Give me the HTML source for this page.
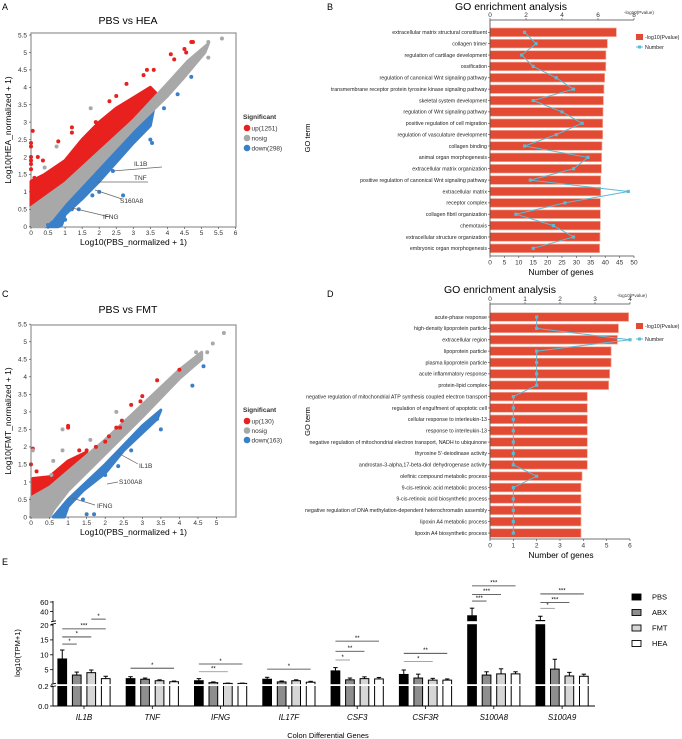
<!DOCTYPE html>
<html><head><meta charset="utf-8">
<style>
html,body{margin:0;padding:0;background:#fff;}
svg{display:block;font-family:"Liberation Sans",Arial,sans-serif;}
</style></head>
<body>
<svg id="fig" xmlns="http://www.w3.org/2000/svg" width="682" height="739" viewBox="0 0 682 739">
  <text x="2" y="10" font-size="9">A</text>
  <text x="327" y="10" font-size="9">B</text>
  <text x="2" y="297" font-size="9">C</text>
  <text x="327" y="297" font-size="9">D</text>
  <text x="2" y="565" font-size="9">E</text>
  <g id="pa"></g>
  <g id="pc"></g>
  <g id="pb"></g>
  <g id="pd"></g>
  <g id="pe"></g>
</svg>
<script>
// ---------- Panel A data ----------
const aRedBand=[[0,0.4],[0,1.3],[0.4,1.5],[1,1.9],[1.5,2.5],[2,3.0],[2.5,3.4],[3,3.7],[3.5,4.0],[3.7,3.8],[3.5,3.5],[2,2],[0.5,0.5]];
const aBlueBand=[[0.4,0],[0.5,0.15],[1,0.65],[2,1.7],[3,2.8],[3.6,3.4],[3.5,2.9],[3,2.4],[2,1.3],[1.5,0.8],[1,0.35],[0.9,0.05],[0.8,0]];
const aGrayBand=[[0,0],[0,0.55],[1,1.25],[2,2.15],[3,3.05],[4,4.1],[4.6,4.75],[5.2,5.25],[5.1,5.0],[4.5,4.3],[4,3.75],[3,2.8],[2,1.75],[1,0.7],[0.5,0.1],[0.4,0]];
const aRedPts=[[0,2.4],[0,2.3],[0.05,2.75],[0,2.0],[0,1.9],[0,1.8],[0,1.65],[0.2,2.0],[0.35,1.9],[0.8,2.45],[1.2,2.85],[1.2,2.7],[1.9,3.0],[2.3,3.6],[2.5,3.75],[2.8,4.1],[3.3,4.35],[3.6,4.5],[4.1,4.95],[4.2,4.8],[4.5,5.1],[4.55,5.0],[4.7,5.3],[4.75,5.3],[3.4,4.5],[0.1,1.4],[0.05,1.2]];
const aBluePts=[[3.5,2.5],[3.55,2.4],[2.7,0.9],[2.0,1.0],[1.8,0.9],[1.2,0.5],[1.4,0.5],[1.0,0.2],[4.3,3.8],[4.7,4.3],[3.9,3.4],[2.2,1.6],[2.4,1.6],[0.5,0.05],[0.6,0.1]];
const aGrayPts=[[1.75,3.4],[0.75,2.3],[0.4,1.7],[5.6,5.4],[5.2,5.3],[5.2,4.85],[4.7,4.6],[0.6,0.9]];
const aXTicks=[0,0.5,1,1.5,2,2.5,3,3.5,4,4.5,5,5.5,6];
const aYTicks=[0,0.5,1,1.5,2,2.5,3,3.5,4,4.5,5,5.5];
const aLegend=["up(1251)","nosig","down(298)"];
// ---------- Panel C data ----------
const cRedBand=[[0.05,0.5],[0.05,1.1],[0.5,1.15],[1,1.6],[1.5,1.85],[1.5,1.6],[1,1.15],[0.5,0.7]];
const cBlueBand=[[0.6,0],[1,0.5],[2,1.5],[3,2.6],[3.5,3.05],[3.4,2.8],[2.5,1.9],[2,1.25],[1.4,0.75],[1,0.3],[0.9,0]];
const cGrayBand=[[0,0],[0,0.55],[0.5,0.85],[1,1.3],[2,2.2],[3,3.2],[4,4.2],[4.6,4.7],[4.6,4.5],[4,3.95],[3,2.85],[2,1.8],[1,0.75],[0.6,0.2],[0.5,0]];
const cRedPts=[[0,1.5],[0.05,1.95],[0.15,1.3],[1.0,2.6],[1.0,2.55],[1.3,1.9],[1.5,1.9],[1.75,2.0],[2.0,2.15],[2.1,2.3],[2.4,2.55],[2.45,2.75],[2.7,3.2],[2.95,3.3],[3.4,3.9],[3.0,3.45],[4.0,4.2],[2.3,2.55]];
const cBluePts=[[1.5,0.08],[1.7,0.08],[0.85,0.15],[2.35,1.45],[2.15,1.55],[2.7,1.9],[3.5,2.5],[3.4,2.8],[3.05,2.55],[4.35,3.75],[4.65,4.3],[2.0,1.2],[1.2,0.55],[1.4,0.5]];
const cGrayPts=[[0.05,1.9],[0.6,1.6],[0.85,2.5],[0.85,1.9],[0.55,1.2],[1.6,2.2],[2.3,3.0],[3.5,3.55],[5.2,5.25],[4.9,4.95],[4.75,4.7],[4.45,4.7]];
const cXTicks=[0,0.5,1,1.5,2,2.5,3,3.5,4,4.5,5];
const cYTicks=[0,0.5,1,1.5,2,2.5,3,3.5,4,4.5,5,5.5];
const cLegend=["up(130)","nosig","down(163)"];
// ---------- Panel B data ----------
const bTerms=["extracellular matrix structural constituent","collagen trimer","regulation of cartilage development","ossification","regulation of canonical Wnt signaling pathway","transmembrane receptor protein tyrosine kinase signaling pathway","skeletal system development","regulation of Wnt signaling pathway","positive regulation of cell migration","regulation of vasculature development","collagen binding","animal organ morphogenesis","extracellular matrix organization","positive regulation of canonical Wnt signaling pathway","extracellular matrix","receptor complex","collagen fibril organization","chemotaxis","extracellular structure organization","embryonic organ morphogenesis"];
const bPval=[7.02,6.52,6.44,6.43,6.37,6.33,6.30,6.28,6.26,6.26,6.22,6.20,6.19,6.15,6.15,6.13,6.13,6.13,6.11,6.09];
const bCount=[12,16,11,15,23,29,15,25,32,23,12,34,29,14,48,26,9,22,29,15];
const bTopTicks=[0,2,4,6,8];
const bBotTicks=[0,5,10,15,20,25,30,35,40,45,50];
// ---------- Panel D data ----------
const dTerms=["acute-phase response","high-density lipoprotein particle","extracellular region","lipoprotein particle","plasma lipoprotein particle","acute inflammatory response","protein-lipid complex","negative regulation of mitochondrial ATP synthesis coupled electron transport","regulation of engulfment of apoptotic cell","cellular response to interleukin-13","response to interleukin-13","negative regulation of mitochondrial electron transport, NADH to ubiquinone","thyroxine 5'-deiodinase activity","androstan-3-alpha,17-beta-diol dehydrogenase activity","olefinic compound metabolic process","9-cis-retinoic acid metabolic process","9-cis-retinoic acid biosynthetic process","negative regulation of DNA methylation-dependent heterochromatin assembly","lipoxin A4 metabolic process","lipoxin A4 biosynthetic process"];
const dPval=[3.96,3.67,3.64,3.46,3.46,3.42,3.39,2.78,2.78,2.78,2.78,2.78,2.78,2.78,2.63,2.60,2.60,2.60,2.60,2.60];
const dCount=[2,2,6,2,2,2,2,1,1,1,1,1,1,1,2,1,1,1,1,1];
const dTopTicks=[0,1,2,3,4];
const dBotTicks=[0,1,2,3,4,5,6];
// ---------- Panel E data ----------
const eGenes=["IL1B","TNF","IFNG","IL17F","CSF3","CSF3R","S100A8","S100A9"];
const eGroups=["PBS","ABX","FMT","HEA"];
const ePBS=[8.6,2.0,1.3,1.8,4.6,3.4,31,21];
const ePBSerr=[11.6,2.65,2.0,2.45,5.7,4.9,47,30];
const eABX=[3.2,1.8,0.65,0.9,1.6,2.2,3.2,5.2];
const eABXerr=[4.2,2.2,0.9,1.2,2.2,3.5,4.3,8.5];
const eFMT=[4.0,1.3,0.4,1.3,2.0,1.5,3.6,2.9];
const eFMTerr=[4.9,1.6,0.5,1.6,2.6,2.1,5.3,4.1];
const eHEA=[2.0,0.95,0.4,0.8,1.9,1.5,3.6,2.8];
const eHEAerr=[2.8,1.2,0.5,1.1,2.4,1.9,4.3,3.5];
const eYTicks=[60,40,20,15,10,5,0.2,0.0];
const eYTickLabels=["60","40","20","15","10","5","0.2","0.0"];
// significance: gene index, from group, to group, height (data units), stars
const sigGene=[0,0,0,0,1,2,2,3,4,4,4,5,5,6,6,6,7,7,7];
const sigFrom=[0,0,0,2,0,0,0,0,0,0,0,0,0,0,0,0,0,0,0];
const sigTo=[1,2,3,3,3,2,3,3,1,2,3,2,3,1,2,3,1,2,3];
const sigLevel=[13.6,16,18.7,24,5.5,4.3,6.9,5.2,8.25,11.2,14.6,7.7,10.5,62,76,94,46.7,59,77];
const sigStars=["*","*","***","*","*","**","*","*","*","**","**","*","**","***","***","***","*","***","***"];

const NS="http://www.w3.org/2000/svg";
function mk(tag,attrs,parent,txt){const e=document.createElementNS(NS,tag);for(const k in attrs)e.setAttribute(k,attrs[k]);if(txt!==undefined)e.textContent=txt;parent.appendChild(e);return e;}
const RED="#e8201e",GRAY="#a8a8a8",BLUE="#3a80c9";

function scatter(g,o){
  const X=o.X,Y=o.Y;
  let el;
  el=mk("text",{x:o.titleX,y:o.titleY,"font-size":"10.5","text-anchor":"middle"},g,o.title);
  
  
  el=mk("rect",{x:o.left,y:o.top,width:o.right-o.left,height:o.bottom-o.top,fill:"none",stroke:"#9a9a9a","stroke-width":"1.3"},g);
  
  
  const bands=[[o.redBand,RED,'up-region'],[o.blueBand,BLUE,'down-region'],[o.grayBand,GRAY,'nosig-region']];
  bands.forEach(b=>{
    el=mk("polygon",{points:b[0].map(p=>X(p[0])+","+Y(p[1])).join(" "),fill:b[1],stroke:b[1],"stroke-width":"3","stroke-linejoin":"round"},g);
    
    
  });
  const pts=[[o.redPts,RED,'up-point'],[o.bluePts,BLUE,'down-point'],[o.grayPts,GRAY,'nosig-point']];
  pts.forEach(s=>s[0].forEach(p=>{
    el=mk("circle",{cx:X(p[0]),cy:Y(p[1]),r:"2",fill:s[1]},g);
    
    
  }));
  o.xTicks.forEach(v=>{
    el=mk("line",{x1:X(v),x2:X(v),y1:o.bottom,y2:o.bottom+2,stroke:"#555","stroke-width":"0.7"},g);
    
    
    el=mk("text",{x:X(v),y:o.bottom+8,"font-size":"6.5","text-anchor":"middle",fill:"#333"},g,String(v));
    
    
  });
  o.yTicks.forEach(v=>{
    el=mk("line",{x1:o.left-2,x2:o.left,y1:Y(v),y2:Y(v),stroke:"#555","stroke-width":"0.7"},g);
    
    
    el=mk("text",{x:o.left-4,y:Y(v)+2.3,"font-size":"6.5","text-anchor":"end",fill:"#333"},g,String(v));
    
    
  });
  el=mk("text",{x:(o.left+o.right)/2,y:o.bottom+18,"font-size":"8.5","text-anchor":"middle"},g,"Log10(PBS_normalized + 1)");
  
  
  const cy=(o.top+o.bottom)/2;
  el=mk("text",{x:11,y:cy,"font-size":"8.5","text-anchor":"middle",transform:"rotate(-90 11 "+cy+")"},g,o.yTitle);
  
  
  el=mk("text",{x:243,y:o.legY,"font-size":"6.5","font-weight":"bold",fill:"#333"},g,"Significant");
  
  
  const lc=[RED,GRAY,BLUE];
  o.legend.forEach((t,i)=>{
    const y=o.legY+9+i*o.legStep;
    el=mk("circle",{cx:247,cy:y,r:"3.3",fill:lc[i]},g);
    
    
    el=mk("text",{x:251.5,y:y+2.3,"font-size":"6.5",fill:"#333"},g,t);
    
    
  });
  o.ann.forEach(a=>{
    el=mk("line",{x1:a[0],y1:a[1],x2:a[2],y2:a[3],stroke:"#666","stroke-width":"0.7"},g);
    
    
    el=mk("text",{x:a[4],y:a[5],"font-size":"6.5",fill:"#333"},g,a[6]);
    
    
  });
}

scatter(document.getElementById("pa"),{
  X:v=>31+v*34.1, Y:v=>226.7-v*34.85, left:31,right:236,top:33,bottom:227,
  title:"PBS  vs  HEA",titleX:128,titleY:24,yTitle:"Log10(HEA_normalized + 1)",
  redBand:aRedBand,blueBand:aBlueBand,grayBand:aGrayBand,redPts:aRedPts,bluePts:aBluePts,grayPts:aGrayPts,
  xTicks:aXTicks,yTicks:aYTicks,legend:aLegend,legY:119,legStep:10,
  ann:[[113,171,162,167,134,166,"IL1B"],[97,182,148,182,134,180,"TNF"],[95,190,122,199,120,203,"S160A8"],[72,208,110,217,103,219,"IFNG"]]
});
scatter(document.getElementById("pc"),{
  X:v=>31+v*37.1, Y:v=>517-v*35.05, left:31,right:236,top:325,bottom:517,
  title:"PBS  vs  FMT",titleX:128,titleY:313,yTitle:"Log10(FMT_normalized + 1)",
  redBand:cRedBand,blueBand:cBlueBand,grayBand:cGrayBand,redPts:cRedPts,bluePts:cBluePts,grayPts:cGrayPts,
  xTicks:cXTicks,yTicks:cYTicks,legend:cLegend,legY:412,legStep:9.5,
  ann:[[118,453,138,464,139,468,"IL1B"],[107,484,118,482,119,484,"S100A8"],[72,498,95,505,97,508,"IFNG"]]
});

function goChart(g,o){
  let el;
  const left=490;
  el=mk("text",{x:o.titleX,y:o.titleY,"font-size":"10.5","text-anchor":"middle"},g,"GO enrichment analysis");
  
  
  el=mk("text",{x:o.plX,y:o.plY,"font-size":"4.6",fill:"#333"},g,"-log10(Pvalue)");
  
  
  o.pval.forEach((v,i)=>{
    const y=o.row(i);
    el=mk("rect",{x:left,y:y-4.3,width:o.px(v)-left,height:8.6,fill:"#e24a33",stroke:"#f3a896","stroke-width":"0.7"},g);
    
    
    el=mk("line",{x1:left-2,x2:left,y1:y,y2:y,stroke:"#444","stroke-width":"0.6"},g);
    
    
    el=mk("text",{x:left-3,y:y+1.8,"font-size":"5.3","text-anchor":"end",fill:"#222"},g,o.terms[i]);
    
    
  });
  el=mk("polyline",{points:o.count.map((c,i)=>o.nx(c)+","+o.row(i)).join(" "),fill:"none",stroke:"#5bbad5","stroke-width":"1"},g);
  
  
  o.count.forEach((c,i)=>{
    el=mk("rect",{x:o.nx(c)-1.6,y:o.row(i)-1.6,width:3.2,height:3.2,fill:"#5bbad5"},g);
    
    
  });
  const axr=o.px(o.topTicks[o.topTicks.length-1]);
  el=mk("line",{x1:left,x2:left,y1:o.topY,y2:o.botY,stroke:"#444","stroke-width":"0.8"},g);
  
  
  el=mk("line",{x1:left,x2:axr,y1:o.topY,y2:o.topY,stroke:"#444","stroke-width":"0.8"},g);
  
  
  el=mk("line",{x1:left,x2:axr,y1:o.botY,y2:o.botY,stroke:"#444","stroke-width":"0.8"},g);
  
  
  o.topTicks.forEach(v=>{
    el=mk("line",{x1:o.px(v),x2:o.px(v),y1:o.topY-2,y2:o.topY,stroke:"#444","stroke-width":"0.6"},g);
    
    
    el=mk("text",{x:o.px(v),y:o.topY-3,"font-size":"6.5","text-anchor":"middle",fill:"#333"},g,String(v));
    
    
  });
  o.botTicks.forEach(v=>{
    el=mk("line",{x1:o.nx(v),x2:o.nx(v),y1:o.botY,y2:o.botY+2,stroke:"#444","stroke-width":"0.6"},g);
    
    
    el=mk("text",{x:o.nx(v),y:o.botY+8.5,"font-size":"6.5","text-anchor":"middle",fill:"#333"},g,String(v));
    
    
  });
  el=mk("text",{x:561,y:o.botY+19,"font-size":"8.5","text-anchor":"middle"},g,"Number of genes");
  
  
  const gy=(o.topY+o.botY)/2;
  el=mk("text",{x:310,y:gy,"font-size":"7.5","text-anchor":"middle",transform:"rotate(-90 310 "+gy+")"},g,"GO term");
  
  
  el=mk("rect",{x:636,y:o.legY-3,width:7,height:6,fill:"#e24a33"},g);
  
  
  el=mk("text",{x:645,y:o.legY+2,"font-size":"5.3",fill:"#222"},g,"-log10(Pvalue)");
  
  
  el=mk("line",{x1:636,x2:643,y1:o.legY+o.legStep,y2:o.legY+o.legStep,stroke:"#5bbad5","stroke-width":"1"},g);
  
  
  el=mk("rect",{x:638,y:o.legY+o.legStep-1.5,width:3,height:3,fill:"#5bbad5"},g);
  
  
  el=mk("text",{x:645,y:o.legY+o.legStep+2,"font-size":"5.3",fill:"#222"},g,"Number");
  
  
}
goChart(document.getElementById("pb"),{
  terms:bTerms,pval:bPval,count:bCount,topTicks:bTopTicks,botTicks:bBotTicks,
  row:i=>32.3+i*11.37, px:v=>490+v*18, nx:n=>490+n*2.88, topY:20, botY:256,
  titleX:511,titleY:10,plX:624,plY:14,legY:37,legStep:10
});
goChart(document.getElementById("pd"),{
  terms:dTerms,pval:dPval,count:dCount,topTicks:dTopTicks,botTicks:dBotTicks,
  row:i=>317+i*11.37, px:v=>490+v*35, nx:n=>490+n*23.33, topY:304, botY:539,
  titleX:500,titleY:293,plX:617,plY:297,legY:326,legStep:13
});

// ---------- Panel E ----------
(function(){
  const g=document.getElementById("pe");
  let el;
  const eY=v=>{ if(v<=0.2) return 706-v/0.2*20; if(v<=20) return 684-(v-0.2)*2.98; return 621-(v-20)*0.475; };
  const gx=i=>84+i*68.3;
  const off=[-21.75,-7.25,7.25,21.75];
  const bw=8.7;
  const fills=["#000","#8e8e8e","#d6d6d6","#fff"];
  const vals=[ePBS,eABX,eFMT,eHEA], errs=[ePBSerr,eABXerr,eFMTerr,eHEAerr];
  const names=['bar-pbs','bar-abx','bar-fmt','bar-hea'];
  eGenes.forEach((gn,i)=>{
    for(let k=0;k<4;k++){
      const cx=gx(i)+off[k], v=vals[k][i], e=errs[k][i];
      el=mk("line",{x1:cx,x2:cx,y1:eY(v),y2:eY(e),stroke:"#000","stroke-width":"1"},g);
      
      
      el=mk("line",{x1:cx-2.2,x2:cx+2.2,y1:eY(e),y2:eY(e),stroke:"#000","stroke-width":"1"},g);
      
      
      el=mk("rect",{x:cx-bw/2,y:eY(v),width:bw,height:706-eY(v),fill:fills[k],stroke:"#000","stroke-width":"1"},g);
      
      
    }
    el=mk("line",{x1:gx(i),x2:gx(i),y1:706,y2:709,stroke:"#000","stroke-width":"0.8"},g);
    
    
    el=mk("text",{x:gx(i),y:720,"font-size":"8","font-style":"italic","text-anchor":"middle"},g,gn);
    
    
  });
  // axis breaks
  el=mk("rect",{x:50,y:684.2,width:546,height:1.8,fill:"#fff"},g);
  
  
  el=mk("rect",{x:50,y:621.2,width:546,height:3,fill:"#fff"},g);
  
  
  el=mk("line",{x1:53,x2:53,y1:601,y2:706,stroke:"#000","stroke-width":"0.9"},g);
  
  
  el=mk("rect",{x:51,y:684,width:4,height:2.2,fill:"#fff"},g);
  
  
  el=mk("rect",{x:51,y:621.5,width:4,height:2.2,fill:"#fff"},g);
  
  
  [[683.8],[686.4],[621.3],[623.9]].forEach(b=>{
    el=mk("line",{x1:51,x2:56,y1:b[0]+0.5,y2:b[0]-0.5,stroke:"#000","stroke-width":"0.8"},g);
    
    
  });
  el=mk("line",{x1:53,x2:595,y1:706,y2:706,stroke:"#000","stroke-width":"0.9"},g);
  
  
  eYTicks.forEach((v,i)=>{
    const y=eY(v);
    el=mk("line",{x1:50,x2:53,y1:y,y2:y,stroke:"#000","stroke-width":"0.8"},g);
    
    
    el=mk("text",{x:48.5,y:y+2.8,"font-size":"7.5","text-anchor":"end"},g,eYTickLabels[i]);
    
    
  });
  el=mk("text",{x:20,y:653,"font-size":"7.5","text-anchor":"middle",transform:"rotate(-90 20 653)"},g,"log10(TPM+1)");
  
  
  el=mk("text",{x:328,y:738,"font-size":"7.5","text-anchor":"middle"},g,"Colon Differential Genes");
  
  
  sigGene.forEach((gi,j)=>{
    const x1=gx(gi)+off[sigFrom[j]], x2=gx(gi)+off[sigTo[j]], y=eY(sigLevel[j]);
    const col=(sigStars[j]==="*"&&sigTo[j]<=2&&gi>=2)||(gi===2&&sigTo[j]===2)?"#888":"#333";
    el=mk("line",{x1:x1,x2:x2,y1:y,y2:y,stroke:col,"stroke-width":"0.8"},g);
    
    
    el=mk("text",{x:(x1+x2)/2,y:y-1.2,"font-size":"6","text-anchor":"middle"},g,sigStars[j]);
    
    
  });
  eGroups.forEach((nm,k)=>{
    const y=597+k*15.5;
    el=mk("rect",{x:632,y:y-3,width:9,height:6,fill:fills[k],stroke:"#000","stroke-width":"0.9"},g);
    
    
    el=mk("text",{x:652,y:y+2.6,"font-size":"7.5"},g,nm);
    
    
  });
})();
</script>
</body></html>
